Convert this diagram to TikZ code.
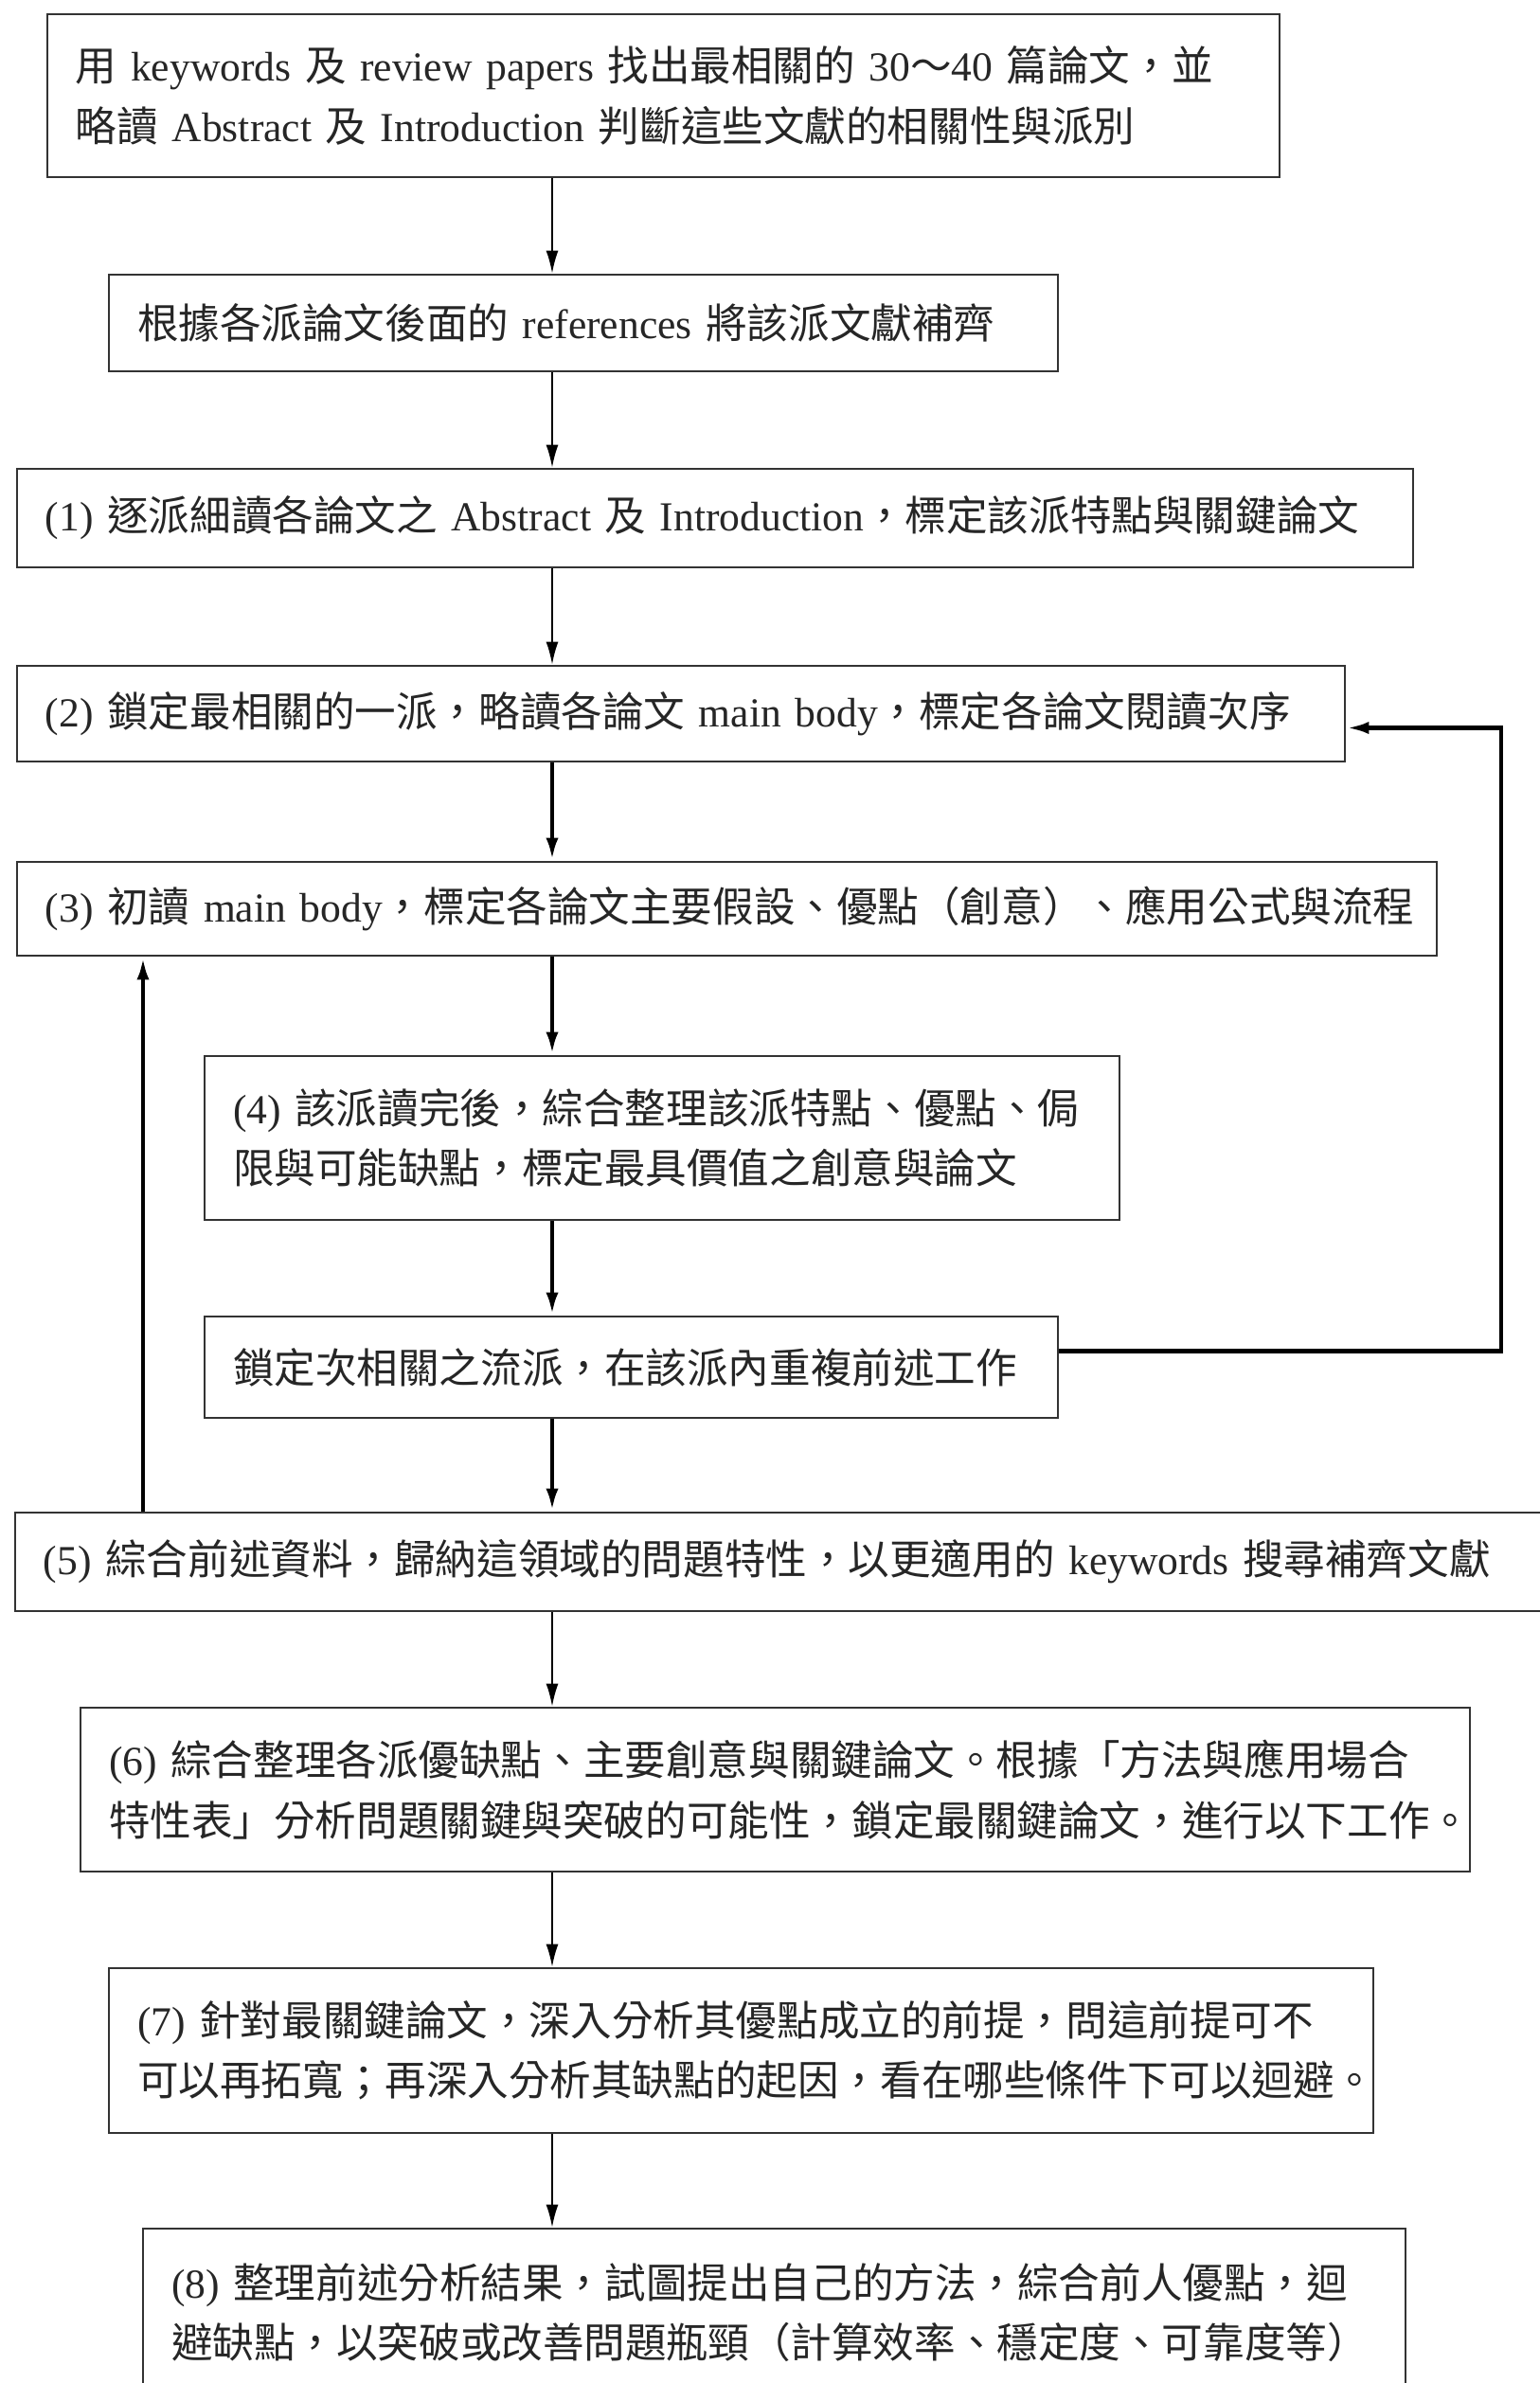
\documentclass[tikz,border=0pt]{standalone}
\usepackage{fontspec}
\setmainfont{Noto Sans CJK TC}
\newfontfamily\serifen{Liberation Serif}
\usetikzlibrary{arrows.meta}
\hyphenpenalty=10000
\exhyphenpenalty=10000

\begin{document}
\begin{tikzpicture}[
    >={Latex[length=2.4mm,width=1.3mm]},
    stepbox/.style={
        rectangle,
        draw=black!80,
        line width=0.8pt,
        fill=white,
        inner xsep=0.3cm,
        inner ysep=2pt,
        align=left,
        text=black!85,
        font=\fontsize{12.4}{18}\selectfont
    },
    flow/.style={->, line width=0.5pt},
    loopback/.style={->, line width=1.3pt}
]

\useasboundingbox (0,0) rectangle (16.26,-25.16);
\clip (0,0) rectangle (16.26,-25.16);

\coordinate (spine) at (5.83,0);
\coordinate (leftback) at (1.51,0);
\coordinate (rightback) at (15.85,0);

\node[stepbox, text width=12.41cm, minimum height=1.72cm] (b1) at (7.005,-1.01) {用~{\serifen keywords}~及~{\serifen review~papers}~找出最相關的~{\serifen 30}～{\serifen 40}~篇論文，並\\略讀~{\serifen Abstract}~及~{\serifen Introduction}~判斷這些文獻的相關性與派別};
\node[stepbox, text width=9.42cm, minimum height=1.02cm] (b2) at (6.16,-3.41) {根據各派論文後面的~{\serifen references}~將該派文獻補齊};
\node[stepbox, text width=14.14cm, minimum height=1.04cm] (s1) at (7.55,-5.47) {{\serifen (1)}~逐派細讀各論文之~{\serifen Abstract}~及~{\serifen Introduction}，標定該派特點與關鍵論文};
\node[stepbox, text width=13.42cm, minimum height=1.01cm] (s2) at (7.19,-7.535) {{\serifen (2)}~鎖定最相關的一派，略讀各論文~{\serifen main~body}，標定各論文閱讀次序};
\node[stepbox, text width=14.39cm, minimum height=0.99cm] (s3) at (7.675,-9.595) {{\serifen (3)}~初讀~{\serifen main~body}，標定各論文主要假設、優點（創意）、應用公式與流程};
\node[stepbox, text width=9.06cm, minimum height=1.73cm] (s4) at (6.99,-12.015) {{\serifen (4)}~該派讀完後，綜合整理該派特點、優點、侷\\限與可能缺點，標定最具價值之創意與論文};
\node[stepbox, text width=8.41cm, minimum height=1.07cm] (lock) at (6.665,-14.435) {鎖定次相關之流派，在該派內重複前述工作};
\node[stepbox, text width=15.7cm, minimum height=1.04cm] (s5) at (8.31,-16.49) {{\serifen (5)}~綜合前述資料，歸納這領域的問題特性，以更適用的~{\serifen keywords}~搜尋補齊文獻};
\node[stepbox, text width=14.07cm, minimum height=1.73cm] (s6) at (8.185,-18.895) {{\serifen (6)}~綜合整理各派優缺點、主要創意與關鍵論文。根據「方法與應用場合\\特性表」分析問題關鍵與突破的可能性，鎖定最關鍵論文，進行以下工作。};
\node[stepbox, text width=12.75cm, minimum height=1.74cm] (s7) at (7.825,-21.65) {{\serifen (7)}~針對最關鍵論文，深入分析其優點成立的前提，問這前提可不\\可以再拓寬；再深入分析其缺點的起因，看在哪些條件下可以迴避。};
\node[stepbox, text width=12.73cm, minimum height=1.77cm] (s8) at (8.175,-24.415) {{\serifen (8)}~整理前述分析結果，試圖提出自己的方法，綜合前人優點，迴\\避缺點，以突破或改善問題瓶頸（計算效率、穩定度、可靠度等）};

% main flow
\draw[flow] (b1.south -| spine) -- (b2.north -| spine);
\draw[flow] (b2.south -| spine) -- (s1.north -| spine);
\draw[flow] (s1.south -| spine) -- (s2.north -| spine);
\draw[loopback] (s2.south -| spine) -- (s3.north -| spine);
\draw[loopback] (s3.south -| spine) -- (s4.north -| spine);
\draw[loopback] (s4.south -| spine) -- (lock.north -| spine);
\draw[loopback] (lock.south -| spine) -- (s5.north -| spine);
\draw[flow] (s5.south -| spine) -- (s6.north -| spine);
\draw[flow] (s6.south -| spine) -- (s7.north -| spine);
\draw[flow] (s7.south -| spine) -- (s8.north -| spine);

% feedback loops
\coordinate (lockout) at ([yshift=0.17cm]lock.east);
\coordinate (s2in) at ([yshift=-0.15cm]s2.east);
\draw[loopback] (s5.north -| leftback) -- (s3.south -| leftback);
\draw[loopback] (lockout) -| (rightback |- s2in) -- (s2in);

\end{tikzpicture}
\end{document}
